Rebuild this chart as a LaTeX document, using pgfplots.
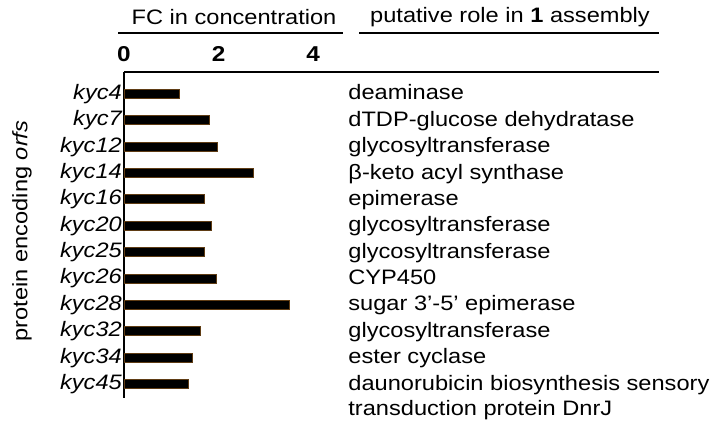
\documentclass[border=0pt]{standalone}
\usepackage{pgfplots}
\pgfplotsset{compat=1.18}
\usepackage{fontspec}
\setmainfont{Liberation Sans}[FakeStretch=1.13]
\definecolor{baredge}{RGB}{95,60,20}

\begin{document}
\begin{tikzpicture}[font=\fontsize{20.9bp}{19bp}\selectfont]
\path[use as bounding box] (0,0) rectangle (722bp,427bp);
% column headers
\node at (234bp,410bp) {FC in concentration};
\draw[line width=1.6bp] (118bp,394bp) -- (343bp,394bp);
\node at (510bp,410bp) {putative role in \textbf{1} assembly};
\draw[line width=1.6bp] (359bp,394bp) -- (659bp,394bp);
\node[rotate=90] at (22bp,196bp) {protein encoding \textit{orfs}};

\begin{axis}[
    at={(124bp,355bp)}, anchor=north west,
    scale only axis, width=535bp, height=326bp,
    axis x line*=top, axis y line*=left,
    axis line style={line width=1.6bp},
    xmin=0, xmax=11.31,
    ymin=0.17, ymax=12.53, y dir=reverse,
    xtick={0,2,4}, xticklabels={\textbf{0},\textbf{2},\textbf{4}},
    xticklabel style={font=\fontsize{21.5bp}{19bp}\selectfont, yshift=7bp},
    ytick={1,...,12},
    yticklabels={kyc4,kyc7,kyc12,kyc14,kyc16,kyc20,kyc25,kyc26,kyc28,kyc32,kyc34,kyc45},
    yticklabel style={font=\fontsize{20.9bp}{19bp}\selectfont\itshape, inner sep=2bp},
    major tick length=0pt,
    clip=false,
    xbar, bar width=9bp, bar shift=0pt,
]
\addplot[fill=black, draw=baredge, line width=0.8bp] coordinates {
    (1.18,1) (1.80,2) (1.97,3) (2.73,4) (1.71,5) (1.84,6)
    (1.69,7) (1.95,8) (3.49,9) (1.61,10) (1.44,11) (1.37,12)
};
% putative roles
\begin{scope}[every node/.style={anchor=base west, inner sep=0pt, yshift=-6bp}]
\node at (axis cs:4.74,1) {deaminase};
\node at (axis cs:4.74,2) {dTDP-glucose dehydratase};
\node at (axis cs:4.74,3) {glycosyltransferase};
\node at (axis cs:4.74,4) {β-keto acyl synthase};
\node at (axis cs:4.74,5) {epimerase};
\node at (axis cs:4.74,6) {glycosyltransferase};
\node at (axis cs:4.74,7) {glycosyltransferase};
\node at (axis cs:4.74,8) {CYP450};
\node at (axis cs:4.74,9) {sugar 3’-5’ epimerase};
\node at (axis cs:4.74,10) {glycosyltransferase};
\node at (axis cs:4.74,11) {ester cyclase};
\node at (axis cs:4.74,12) {daunorubicin biosynthesis sensory};
\node[yshift=-25bp] at (axis cs:4.74,12) {transduction protein DnrJ};
\end{scope}
\end{axis}
\end{tikzpicture}
\end{document}
